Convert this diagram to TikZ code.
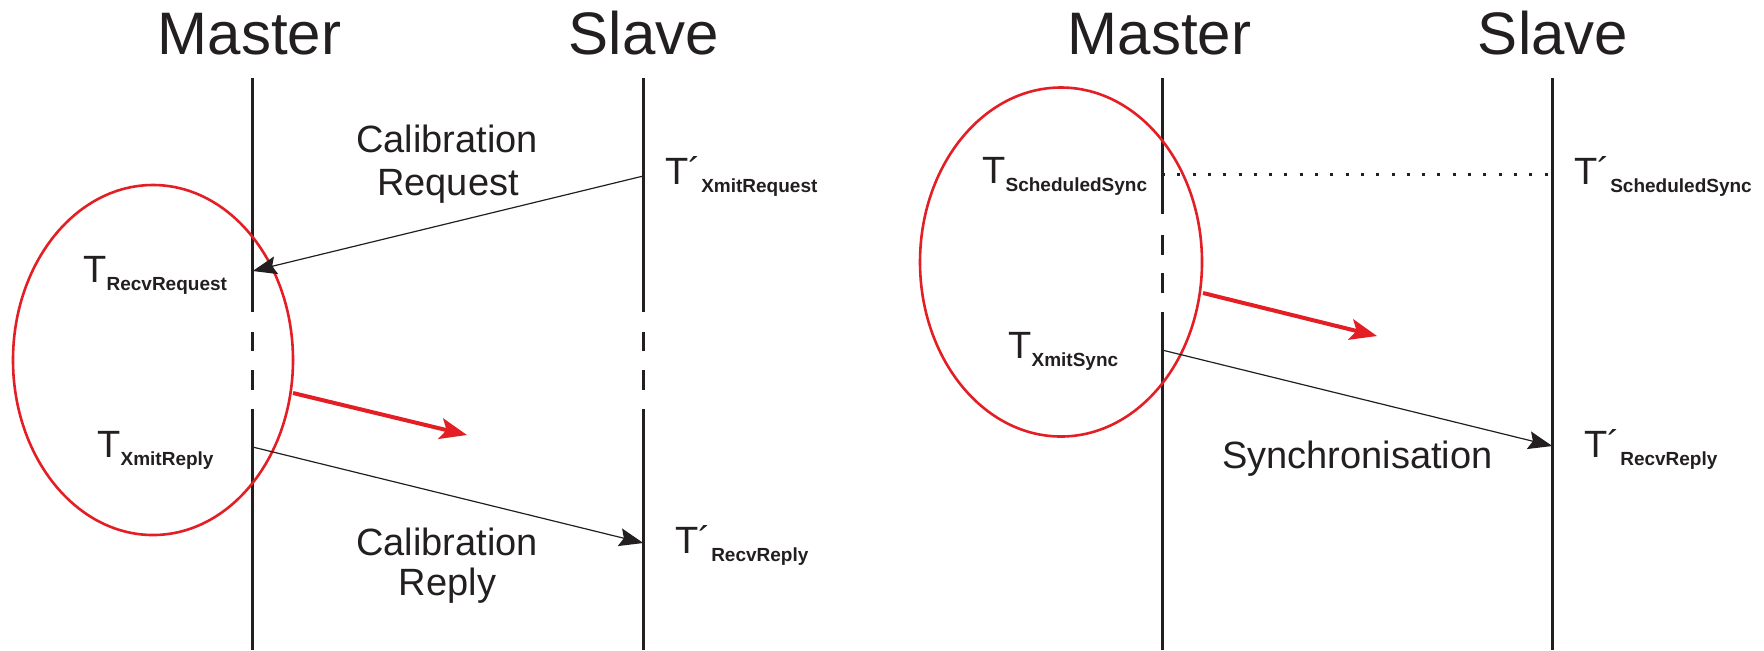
\documentclass[tikz,border=0pt]{standalone}
\usepackage{fontspec}
\setmainfont{Liberation Sans}
\usetikzlibrary{arrows.meta,shapes.geometric}
\definecolor{ink}{RGB}{35,31,32}
\definecolor{redline}{RGB}{227,30,36}
\newcommand\tsub[1]{\raisebox{-4.2pt}{\fontsize{9.5}{11}\selectfont\bfseries #1}}
\begin{document}
\begin{tikzpicture}[x=0.5pt,y=-0.5pt,
  title/.style={font=\fontsize{30}{36}\selectfont, text=ink, inner sep=0pt, anchor=base},
  lbl/.style={font=\fontsize{19}{22}\selectfont, text=ink, inner sep=0pt, anchor=base},
  tlabel/.style={font=\fontsize{19}{22}\selectfont, text=ink, inner sep=0pt, anchor=base west},
  lifeline/.style={line width=1.5pt, draw=ink},
  msg/.style={line width=0.6pt, draw=ink, -{Stealth[length=12pt,width=9pt,inset=2pt]}},
  ellip/.style={draw=redline, line width=1.3pt, ellipse, inner sep=0pt},
  redarrow/.style={draw=redline, line width=2pt, -{Stealth[length=13.5pt,width=10.5pt,inset=3pt]}},
  syncline/.style={line width=1.5pt, draw=ink, dash pattern=on 1.5pt off 6.15pt}
]
\useasboundingbox (0,0) rectangle (1764,650);

% titles
\node[title] (m1) at (249.5,54) {Master};
\node[title] (s1) at (644,54) {Slave};
\node[title] (m2) at (1159.5,54) {Master};
\node[title] (s2) at (1553,54) {Slave};

% lifelines left
\draw[lifeline] (252.7,78) -- (252.7,312);
\draw[lifeline] (252.7,332) -- (252.7,351);
\draw[lifeline] (252.7,370) -- (252.7,390);
\draw[lifeline] (252.7,409) -- (252.7,650);
\draw[lifeline] (643.3,78) -- (643.3,312);
\draw[lifeline] (643.3,332) -- (643.3,351);
\draw[lifeline] (643.3,370) -- (643.3,390);
\draw[lifeline] (643.3,409) -- (643.3,650);
% lifelines right
\draw[lifeline] (1162,78) -- (1162,214);
\draw[lifeline] (1162,235) -- (1162,255);
\draw[lifeline] (1162,273) -- (1162,293);
\draw[lifeline] (1162,312) -- (1162,650);
\draw[lifeline] (1552.3,78) -- (1552.3,650);

% event points
\coordinate (sXReq) at (643.3,176);
\coordinate (mRReq) at (252.7,271);
\coordinate (mXRep) at (252.7,447);
\coordinate (sRRep) at (643.3,543);
\coordinate (mSS) at (1162,174);
\coordinate (sSS) at (1552.3,174);
\coordinate (mXS) at (1162,350);
\coordinate (sRR) at (1552.3,446);

% ellipses
\node[ellip, minimum width=140pt, minimum height=175pt] (e1) at (153,360) {};
\node[ellip, minimum width=141pt, minimum height=174.5pt] (e2) at (1061,262) {};

% messages
\draw[msg] (sXReq) -- (mRReq);
\draw[msg] (mXRep) -- (sRRep);
\draw[msg] (mXS) -- (sRR);
\draw[syncline] (mSS) -- (sSS);

% red arrows
\coordinate (r1a) at (293,393);
\coordinate (r1b) at (467,435);
\coordinate (r2a) at (1203,293);
\coordinate (r2b) at (1377,336);
\draw[redarrow] (r1a) -- (r1b);
\draw[redarrow] (r2a) -- (r2b);

% labels
\node[lbl] (cr1) at (447,152) {Calibration};
\node[lbl] (cr2) at (448,195) {Request};
\node[lbl] (cp1) at (447,555) {Calibration};
\node[lbl] (cp2) at (447.5,595) {Reply};
\node[lbl] (syn) at (1357.5,468) {Synchronisation};

% time stamps
\node[tlabel] (tRR) at (83,282) {T\tsub{RecvRequest}};
\node[tlabel] (tXR) at (97,457) {T\tsub{XmitReply}};
\node[tlabel] (tpXR) at (665,184) {T´\tsub{XmitRequest}};
\node[tlabel] (tpRR) at (675,553) {T´\tsub{RecvReply}};
\node[tlabel] (tSS) at (982,183) {T\tsub{ScheduledSync}};
\node[tlabel] (tXS) at (1008,358) {T\tsub{XmitSync}};
\node[tlabel] (tpSS) at (1574,184) {T´\tsub{ScheduledSync}};
\node[tlabel] (tpRR2) at (1584,457) {T´\tsub{RecvReply}};
\end{tikzpicture}
\end{document}
